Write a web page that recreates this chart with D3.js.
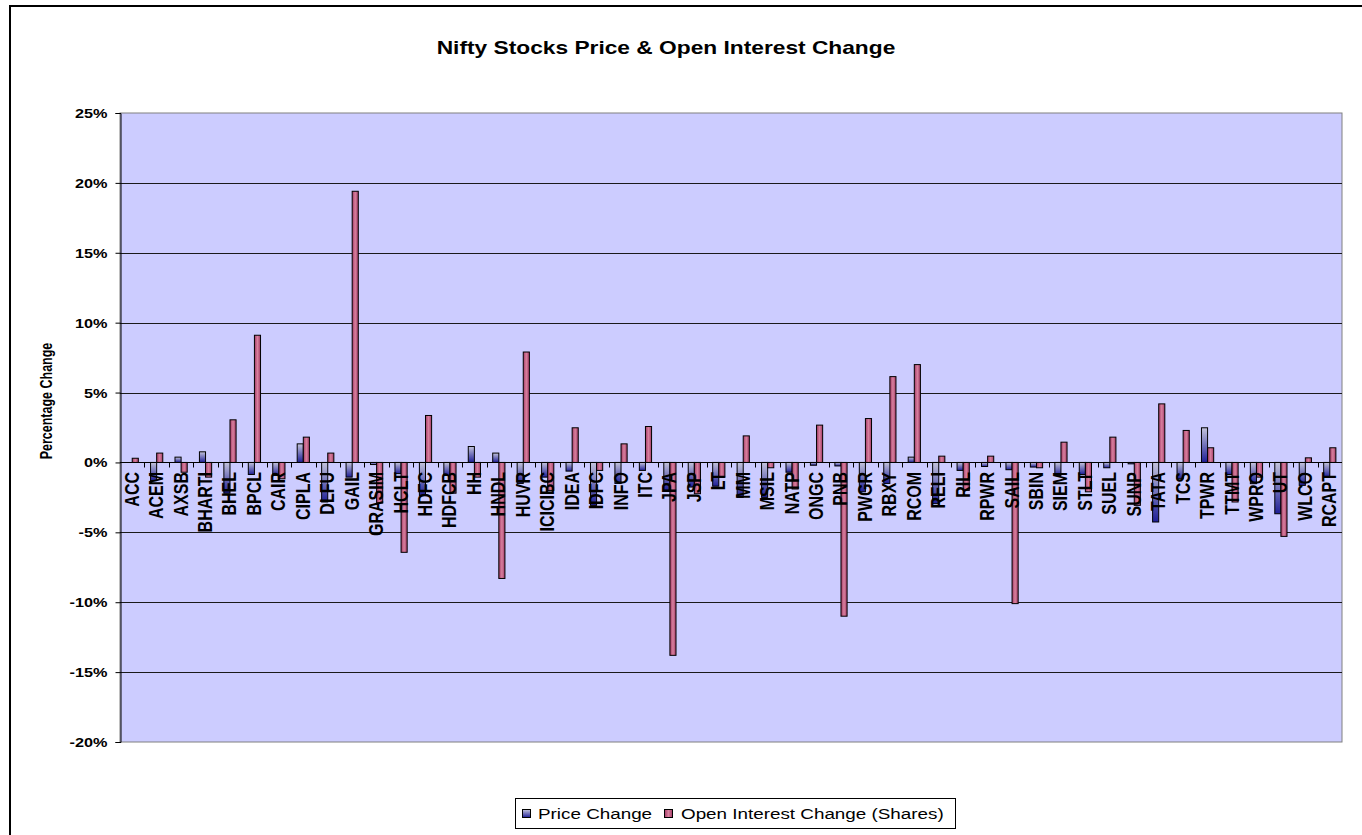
<!DOCTYPE html>
<html>
<head>
<meta charset="utf-8">
<script src="https://cdn.jsdelivr.net/npm/d3@7"></script>
<style>
html,body{margin:0;padding:0;background:#fff;}
svg{display:block;}
text{font-family:"Liberation Sans",Arial,sans-serif;}
</style>
</head>
<body>
<svg id="chart" width="1362" height="835"></svg>
<script>
const categories = ["ACC","ACEM","AXSB","BHARTI","BHEL","BPCL","CAIR","CIPLA","DLFU","GAIL",
  "GRASIM","HCLT","HDFC","HDFCB","HH","HNDL","HUVR","ICICIBC","IDEA","IDFC",
  "INFO","ITC","JPA","JSP","LT","MM","MSIL","NATP","ONGC","PNB",
  "PWGR","RBXY","RCOM","RELI","RIL","RPWR","SAIL","SBIN","SIEM","STLT",
  "SUEL","SUNP","TATA","TCS","TPWR","TTMT","WPRO","UT","WLCO","RCAPT"];
const priceChange = [0,-1.3,0.38,0.76,-2.2,-0.86,-0.93,1.33,-2.83,-1.05,
  -0.15,-0.8,-2.36,-0.93,1.14,0.67,-1.5,-1.05,-0.62,-3.07,
  -1.5,-0.57,-2.0,-1.76,-1.7,-2.5,-2.5,-0.7,-0.2,-0.25,
  -2.1,-1.5,0.38,-2.95,-0.57,-0.29,-0.52,-0.33,-0.93,-0.86,
  -0.38,-0.1,-4.26,-1.17,2.48,-0.86,-1.52,-3.67,-1.64,-1.05];
const oiChange = [0.3,0.67,-0.7,-1.05,3.05,9.1,-1.17,1.81,0.67,19.4,
  -2.9,-6.43,3.36,-2.2,-1.05,-8.3,7.9,-2.0,2.48,-0.57,
  1.33,2.57,-13.8,-2.24,-1.05,1.9,-0.38,-1.9,2.67,-11.0,
  3.14,6.14,7.0,0.45,-2.0,0.45,-10.1,-0.38,1.45,-2.1,
  1.81,-3.07,4.19,2.29,1.05,-2.83,-1.05,-5.29,0.33,1.05];
const yTicks = [-20,-15,-10,-5,0,5,10,15,20,25];
const seriesNames = ["Price Change","Open Interest Change (Shares)"];
const titleText = "Nifty Stocks Price & Open Interest Change";
const yTitle = "Percentage Change";

const SX = 1.3; // horizontal stretch of the reference text
const svg = d3.select("#chart");
const L = 120, R = 1342, T = 113, B = 742;

const defs = svg.append("defs");
const gb = defs.append("linearGradient").attr("id","gBlue").attr("x1",0).attr("y1",0).attr("x2",0).attr("y2",1);
gb.append("stop").attr("offset","0%").attr("stop-color","#c4c4dc");
gb.append("stop").attr("offset","100%").attr("stop-color","#1e1e96");
const gr = defs.append("linearGradient").attr("id","gRed").attr("x1",0).attr("y1",0).attr("x2",1).attr("y2",0);
gr.append("stop").attr("offset","0%").attr("stop-color","#a33a66");
gr.append("stop").attr("offset","50%").attr("stop-color","#d8809e");
gr.append("stop").attr("offset","100%").attr("stop-color","#a33a66");

// outer chart border
svg.append("rect").attr("x",10).attr("y",6).attr("width",1400).attr("height",900)
  .attr("fill","#fff").attr("stroke","#000").attr("stroke-width",2);

const x = d3.scaleBand().domain(categories).range([L,R]).paddingInner(0).paddingOuter(0);
const y = d3.scaleLinear().domain([-20,25]).range([B,T]);

// plot background
svg.append("rect").attr("x",L).attr("y",T).attr("width",R-L).attr("height",B-T)
  .attr("fill","#ccccff").attr("stroke","#808080").attr("stroke-width",1);

// gridlines
svg.append("g").selectAll("line").data(yTicks.filter(d=>d>-20 && d<25)).join("line")
  .attr("x1",L).attr("x2",R).attr("y1",d=>Math.round(y(d))+0.5).attr("y2",d=>Math.round(y(d))+0.5)
  .attr("stroke","#1a1a1a").attr("stroke-width",1);

// bars
const bw = x.bandwidth()/4;
const bars = svg.append("g");
bars.selectAll("rect.p").data(categories).join("rect").attr("class","p")
  .attr("x",(d,i)=>x(d)+x.bandwidth()/2-bw)
  .attr("y",(d,i)=>y(Math.max(0,priceChange[i])))
  .attr("width",bw)
  .attr("height",(d,i)=>Math.abs(y(priceChange[i])-y(0)))
  .attr("fill","url(#gBlue)").attr("stroke","#000").attr("stroke-width",1);
bars.selectAll("rect.o").data(categories).join("rect").attr("class","o")
  .attr("x",(d,i)=>x(d)+x.bandwidth()/2)
  .attr("y",(d,i)=>y(Math.max(0,oiChange[i])))
  .attr("width",bw)
  .attr("height",(d,i)=>Math.abs(y(oiChange[i])-y(0)))
  .attr("fill","url(#gRed)").attr("stroke","#000").attr("stroke-width",1);

// zero axis with category ticks
const y0 = Math.round(y(0))+0.5;
svg.append("line").attr("x1",L).attr("x2",R).attr("y1",y0).attr("y2",y0).attr("stroke","#000").attr("stroke-width",1);
svg.append("g").selectAll("line").data(categories.slice(1)).join("line")
  .attr("x1",d=>Math.round(x(d))+0.5).attr("x2",d=>Math.round(x(d))+0.5)
  .attr("y1",y0).attr("y2",y0+5).attr("stroke","#000");

// category labels
svg.append("g").selectAll("text").data(categories).join("text")
  .attr("transform",d=>`translate(${x(d)+x.bandwidth()/2-1},472) scale(${SX},1) rotate(-90)`)
  .attr("text-anchor","end").attr("dy","0.36em")
  .attr("font-size",16).attr("font-weight","bold").attr("fill","#000")
  .text(d=>d);

// y axis
const yAxis = d3.axisLeft(y).tickValues(yTicks).tickSize(5).tickFormat(d=>d+"%");
const ya = svg.append("g").attr("transform",`translate(${L+0.5},0)`).call(yAxis);
ya.select(".domain").attr("stroke","#000");
ya.selectAll(".tick line").attr("stroke","#000");
ya.selectAll(".tick text").attr("x",0).attr("dy",0)
  .attr("transform",d=>`translate(-13,4.5) scale(${SX},1)`)
  .attr("font-family",'"Liberation Sans",Arial,sans-serif')
  .attr("font-weight","bold").attr("font-size",12.5).attr("fill","#000");

// title
svg.append("text").attr("transform",`translate(666,54) scale(${SX},1)`)
  .attr("text-anchor","middle").attr("font-weight","bold").attr("font-size",17.5).text(titleText);

// y title
svg.append("text").attr("transform",`translate(51.5,401) scale(${SX},1) rotate(-90)`)
  .attr("text-anchor","middle").attr("font-weight","bold").attr("font-size",12.5).text(yTitle);

// legend
const lg = svg.append("g");
lg.append("rect").attr("x",515.5).attr("y",798.5).attr("width",440).attr("height",30)
  .attr("fill","#fff").attr("stroke","#000");
const legItems = [{n:seriesNames[0],fill:"url(#gBlue)",sx:522,tx:538},{n:seriesNames[1],fill:"url(#gRed)",sx:664,tx:681}];
legItems.forEach(it=>{
  lg.append("rect").attr("x",it.sx+0.5).attr("y",809.5).attr("width",8).attr("height",8)
    .attr("fill",it.fill).attr("stroke","#000");
  lg.append("text").attr("transform",`translate(${it.tx},819) scale(${SX},1)`)
    .attr("font-size",14.5).attr("fill","#000").text(it.n);
});
</script>
</body>
</html>
